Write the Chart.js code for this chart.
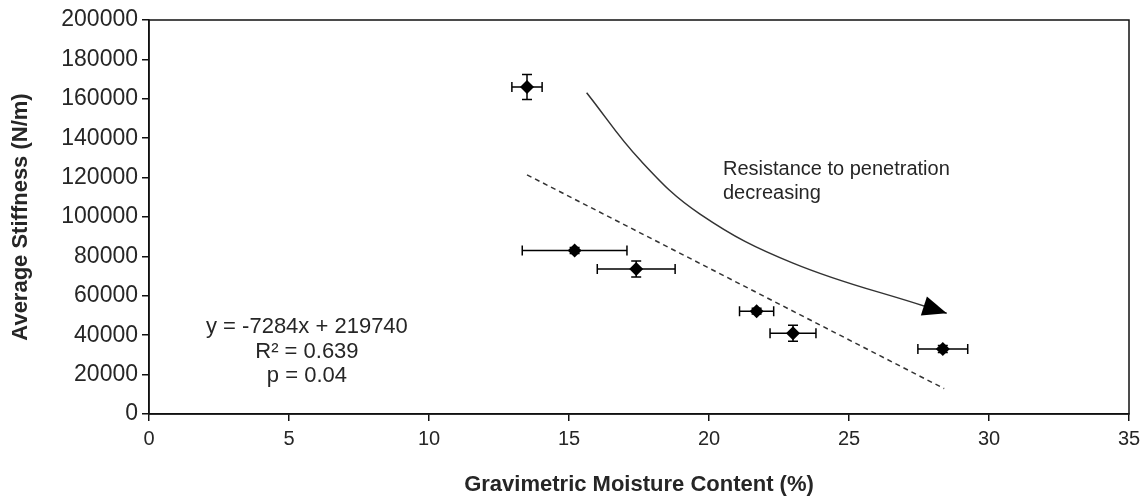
<!DOCTYPE html>
<html>
<head>
<meta charset="utf-8">
<script src="https://cdn.jsdelivr.net/npm/chart.js@4.4.0/dist/chart.umd.min.js"></script>
<style>
  body { margin: 0; background: #fff; }
</style>
</head>
<body>
<canvas id="chart" width="1148" height="502"></canvas>
<script>
// measured points (moisture %, stiffness N/m) with error bars
const moisture = [13.5, 15.2, 17.4, 21.7, 23.0, 28.35];
const stiffness = [166000, 83000, 73600, 52200, 41000, 33000];
const moistureErr = [0.54, 1.87, 1.39, 0.61, 0.82, 0.89];
const stiffnessErr = [6300, 1500, 4100, 1500, 4100, 1800];

// linear fit printed on the chart
const trendSlope = -7284;
const trendIntercept = 219740;
const trendRange = [13.5, 28.4];

// hand-drawn arrow "resistance to penetration decreasing"
const arrowX = [15.63, 17.54, 19.68, 23.0, 27.79, 28.49];
const arrowY = [163100, 128900, 101500, 76600, 54300, 51100];

const fitLabels = ['y = -7284x + 219740', 'R\u00b2 = 0.639', 'p = 0.04'];
const arrowLabels = ['Resistance to penetration', 'decreasing'];

const textColor = '#262626';
const fontFamily = "'Liberation Sans', Arial, sans-serif";

const points = moisture.map((x, i) => ({ x, y: stiffness[i] }));
const trend = trendRange.map(x => ({ x, y: trendSlope * x + trendIntercept }));
const arrowCurve = arrowX.map((x, i) => ({ x, y: arrowY[i] }));

const frameAndExtras = {
  id: 'frameAndExtras',
  beforeDatasetsDraw(chart) {
    const { ctx, chartArea: a, scales: { x, y } } = chart;
    ctx.save();
    // box around plot
    ctx.strokeStyle = '#111';
    ctx.lineWidth = 1.5;
    ctx.strokeRect(a.left, a.top, a.right - a.left, a.bottom - a.top);

    // error bars
    ctx.strokeStyle = '#000';
    ctx.lineWidth = 1.5;
    const cap = 5;
    moisture.forEach((mx, i) => {
      const px = x.getPixelForValue(mx);
      const py = y.getPixelForValue(stiffness[i]);
      const x0 = x.getPixelForValue(mx - moistureErr[i]);
      const x1 = x.getPixelForValue(mx + moistureErr[i]);
      const y0 = y.getPixelForValue(stiffness[i] - stiffnessErr[i]);
      const y1 = y.getPixelForValue(stiffness[i] + stiffnessErr[i]);
      ctx.beginPath();
      ctx.moveTo(x0, py); ctx.lineTo(x1, py);
      ctx.moveTo(x0, py - cap); ctx.lineTo(x0, py + cap);
      ctx.moveTo(x1, py - cap); ctx.lineTo(x1, py + cap);
      ctx.moveTo(px, y0); ctx.lineTo(px, y1);
      ctx.moveTo(px - cap, y0); ctx.lineTo(px + cap, y0);
      ctx.moveTo(px - cap, y1); ctx.lineTo(px + cap, y1);
      ctx.stroke();
    });
    ctx.restore();
  },
  afterDatasetsDraw(chart) {
    const { ctx, scales: { x, y } } = chart;
    ctx.save();
    // arrow head at end of curve
    const n = arrowX.length;
    const tx = x.getPixelForValue(arrowX[n - 1]);
    const ty = y.getPixelForValue(arrowY[n - 1]);
    const bx = x.getPixelForValue(arrowX[n - 2]);
    const by = y.getPixelForValue(arrowY[n - 2]);
    const ang = Math.atan2(ty - by, tx - bx);
    const len = 24, half = 10;
    ctx.fillStyle = '#000';
    ctx.beginPath();
    ctx.moveTo(tx, ty);
    ctx.lineTo(tx - len * Math.cos(ang) + half * Math.sin(ang), ty - len * Math.sin(ang) - half * Math.cos(ang));
    ctx.lineTo(tx - len * Math.cos(ang) - half * Math.sin(ang), ty - len * Math.sin(ang) + half * Math.cos(ang));
    ctx.closePath();
    ctx.fill();

    // text annotations
    ctx.fillStyle = textColor;
    ctx.textBaseline = 'alphabetic';
    ctx.font = '20px ' + fontFamily;
    ctx.textAlign = 'left';
    const ax = x.getPixelForValue(20.5);
    const ay = y.getPixelForValue(121300);
    arrowLabels.forEach((t, i) => ctx.fillText(t, ax, ay + i * 24));

    ctx.font = '22px ' + fontFamily;
    ctx.textAlign = 'center';
    const fx = x.getPixelForValue(5.64);
    const fy = y.getPixelForValue(41100);
    fitLabels.forEach((t, i) => ctx.fillText(t, fx, fy + i * 24.5));
    ctx.restore();
  }
};

new Chart(document.getElementById('chart'), {
  type: 'scatter',
  data: {
    datasets: [
      {
        label: 'Stiffness',
        data: points,
        pointStyle: 'rectRot',
        pointRadius: 7,
        backgroundColor: '#000',
        borderColor: '#000',
        borderWidth: 0,
        order: 1
      },
      {
        label: 'Fit',
        data: trend,
        showLine: true,
        pointRadius: 0,
        borderColor: '#333',
        borderWidth: 1.5,
        borderDash: [5, 4],
        order: 2
      },
      {
        label: 'Trend arrow',
        data: arrowCurve,
        showLine: true,
        pointRadius: 0,
        borderColor: '#333',
        borderWidth: 1.5,
        tension: 0.4,
        order: 3
      }
    ]
  },
  options: {
    responsive: false,
    animation: false,
    layout: { padding: { left: 0, top: 20, right: 19, bottom: 0 } },
    plugins: { legend: { display: false }, tooltip: { enabled: false } },
    scales: {
      x: {
        type: 'linear',
        min: 0,
        max: 35,
        afterFit(scale) { scale.height = 88; },
        ticks: { stepSize: 5, color: textColor, padding: 6, font: { size: 20, family: fontFamily } },
        grid: { drawOnChartArea: false, tickLength: 7, color: '#111', lineWidth: 1.5 },
        border: { color: '#111', width: 1.5 },
        title: {
          display: true,
          text: 'Gravimetric Moisture Content (%)',
          color: textColor,
          padding: { top: 4, bottom: 4 },
          font: { size: 22, weight: 'bold', family: fontFamily }
        }
      },
      y: {
        min: 0,
        max: 200000,
        afterFit(scale) { scale.width = 149; },
        ticks: {
          stepSize: 20000,
          color: textColor,
          padding: 4,
          font: { size: 23, family: fontFamily },
          callback: v => String(v)
        },
        grid: { drawOnChartArea: false, tickLength: 7, color: '#111', lineWidth: 1.5 },
        border: { color: '#111', width: 1.5 },
        title: {
          display: true,
          text: 'Average Stiffness (N/m)',
          color: textColor,
          padding: { top: 8, bottom: 4 },
          font: { size: 22, weight: 'bold', family: fontFamily }
        }
      }
    }
  },
  plugins: [frameAndExtras]
});
</script>
</body>
</html>
